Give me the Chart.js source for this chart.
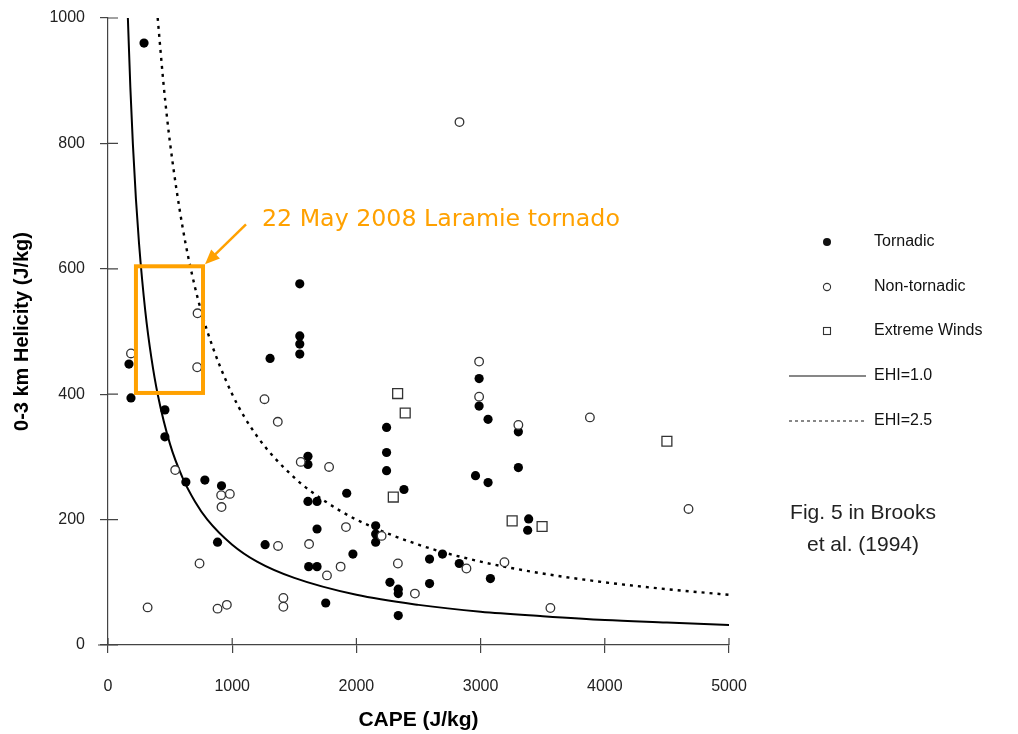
<!DOCTYPE html>
<html lang="en">
<head>
<meta charset="UTF-8">
<title>CAPE vs 0-3 km Helicity (Brooks et al. 1994)</title>
<script src="https://cdn.jsdelivr.net/npm/chart.js"></script>
<style>
  html, body { margin: 0; padding: 0; background: #fff; }
</style>
</head>
<body>
<canvas id="ehiChart" width="1018" height="734"></canvas>
<script>
// ---- data (CAPE J/kg, helicity J/kg) ----
const tornadicCape = [290, 169, 185, 458, 458, 627, 780, 914, 882, 1305, 1544, 1544, 1544, 1544, 1610, 1610, 1610, 1683, 1683, 1265, 1616, 1683, 1753, 1922, 1972, 2243, 2243, 2243, 2383, 2155, 2155, 2155, 2270, 2337, 2337, 2337, 2589, 2589, 2693, 2828, 2988, 2988, 3060, 2959, 3060, 3079, 3304, 3304, 3387, 3379];
const tornadicHel  = [960, 448, 394, 375, 332, 260, 263, 254, 164, 457, 576, 493, 480, 464, 301, 288, 229, 229, 185, 160, 125, 125, 67, 242, 145, 347, 307, 278, 248, 190, 177, 164, 100, 89, 82, 47, 137, 98, 145, 130, 425, 381, 360, 270, 259, 106, 340, 283, 201, 183];

const nonTornCape = [2830, 185, 718, 721, 541, 911, 981, 914, 737, 319, 882, 957, 1260, 1367, 1552, 1780, 1369, 1619, 1763, 1873, 1412, 1412, 1916, 2203, 2334, 2471, 2886, 2988, 2988, 3304, 3192, 3562, 3880, 4674];
const nonTornHel  = [834, 465, 443, 529, 279, 239, 241, 220, 130, 60, 58, 64, 392, 356, 292, 284, 158, 161, 111, 125, 75, 61, 188, 174, 130, 82, 122, 452, 396, 351, 132, 59, 363, 217];

const windCape = [2332, 2393, 2297, 3254, 3495, 4500];
const windHel  = [401, 370, 236, 198, 189, 325];

// EHI curves
const ehi10Cape = [160, 180, 200, 225, 250, 300, 350, 400, 500, 600, 700, 800, 1000, 1200, 1500, 2000, 2500, 3000, 3500, 4000, 4500, 5000];
const ehi10Hel  = [1000, 889, 800, 711, 640, 533, 457, 400, 320, 267, 229, 200, 160, 133, 107, 80, 64, 53, 46, 40, 36, 32];
const ehi25Cape = [400, 450, 500, 600, 700, 800, 1000, 1200, 1500, 1750, 2000, 2500, 3000, 3500, 4000, 4500, 5000];
const ehi25Hel  = [1000, 889, 800, 667, 571, 500, 400, 333, 267, 229, 200, 160, 133, 114, 100, 89, 80];

const xTicks = [0, 1000, 2000, 3000, 4000, 5000];
const yTicks = [0, 200, 400, 600, 800, 1000];

// Laramie case highlight (data units)
const boxCape = [225, 765];
const boxHel  = [402, 604];
const noteText = '22 May 2008 Laramie tornado';

const pts = (xs, ys) => xs.map((v, i) => ({ x: v, y: ys[i] }));

const FONT = '"Liberation Sans", Arial, Helvetica, sans-serif';
const ORANGE = '#ffa100';

// legend, highlight box, inner tick marks
const overlay = {
  id: 'overlay',
  afterDraw(chart) {
    const { ctx, chartArea: a, scales: { x, y } } = chart;
    ctx.save();

    // inner halves of tick marks + axis overhang
    ctx.strokeStyle = '#444';
    ctx.lineWidth = 1.2;
    ctx.beginPath();
    yTicks.forEach(v => { const py = y.getPixelForValue(v); ctx.moveTo(a.left, py); ctx.lineTo(a.left + 10, py); });
    xTicks.forEach(v => { const px = x.getPixelForValue(v); ctx.moveTo(px, a.bottom); ctx.lineTo(px, a.bottom - 7); });
    ctx.moveTo(a.left - 10, a.bottom); ctx.lineTo(a.left, a.bottom);
    ctx.stroke();

    // orange box + arrow + note
    const bx0 = x.getPixelForValue(boxCape[0]), bx1 = x.getPixelForValue(boxCape[1]);
    const by0 = y.getPixelForValue(boxHel[1]), by1 = y.getPixelForValue(boxHel[0]);
    ctx.strokeStyle = ORANGE;
    ctx.lineWidth = 4;
    ctx.strokeRect(bx0, by0, bx1 - bx0, by1 - by0);

    const tipX = bx1 + 2, tipY = by0 - 2;
    const sX = x.getPixelForValue(1111), sY = y.getPixelForValue(671);
    const ang = Math.atan2(tipY - sY, tipX - sX);
    ctx.lineWidth = 2.5;
    ctx.beginPath();
    ctx.moveTo(sX, sY);
    ctx.lineTo(tipX - 10 * Math.cos(ang), tipY - 10 * Math.sin(ang));
    ctx.stroke();
    ctx.fillStyle = ORANGE;
    ctx.beginPath();
    ctx.moveTo(tipX, tipY);
    ctx.lineTo(tipX - 16 * Math.cos(ang - 0.4), tipY - 16 * Math.sin(ang - 0.4));
    ctx.lineTo(tipX - 16 * Math.cos(ang + 0.4), tipY - 16 * Math.sin(ang + 0.4));
    ctx.closePath();
    ctx.fill();

    let fs = 22;
    ctx.font = fs + 'px "Comic Sans MS", "DejaVu Sans", sans-serif';
    fs = fs * 358 / ctx.measureText(noteText).width;
    ctx.font = fs.toFixed(1) + 'px "Comic Sans MS", "DejaVu Sans", sans-serif';
    ctx.textBaseline = 'middle';
    ctx.textAlign = 'left';
    ctx.fillText(noteText, x.getPixelForValue(1240), y.getPixelForValue(678));

    // legend
    ctx.fillStyle = '#111';
    ctx.font = '16px ' + FONT;
    const lx = 874, mx = 827;
    const rows = [242, 287, 331, 376, 421];
    ['Tornadic', 'Non-tornadic', 'Extreme Winds', 'EHI=1.0', 'EHI=2.5'].forEach((t, i) => ctx.fillText(t, lx, rows[i]));

    ctx.beginPath(); ctx.arc(mx, rows[0], 4, 0, Math.PI * 2); ctx.fill();
    ctx.strokeStyle = '#333'; ctx.lineWidth = 1.1;
    ctx.beginPath(); ctx.arc(mx, rows[1], 3.6, 0, Math.PI * 2); ctx.stroke();
    ctx.strokeRect(mx - 3.5, rows[2] - 3.5, 7, 7);
    ctx.strokeStyle = '#111'; ctx.lineWidth = 1.2;
    ctx.beginPath(); ctx.moveTo(789, rows[3]); ctx.lineTo(866, rows[3]); ctx.stroke();
    ctx.setLineDash([3, 3]);
    ctx.beginPath(); ctx.moveTo(789, rows[4]); ctx.lineTo(866, rows[4]); ctx.stroke();
    ctx.setLineDash([]);

    // source note
    ctx.fillStyle = '#222';
    ctx.font = '21px ' + FONT;
    ctx.textAlign = 'center';
    ctx.fillText('Fig. 5 in Brooks', 863, 513);
    ctx.fillText('et al. (1994)', 863, 545);

    ctx.restore();
  }
};

new Chart(document.getElementById('ehiChart'), {
  type: 'scatter',
  data: {
    datasets: [
      { label: 'Extreme Winds', data: pts(windCape, windHel), pointStyle: 'rect', pointRadius: 7,
        backgroundColor: '#fff', borderColor: '#333', borderWidth: 1.3, order: 0 },
      { label: 'Non-tornadic', data: pts(nonTornCape, nonTornHel), pointRadius: 4.3,
        backgroundColor: '#fff', borderColor: '#333', borderWidth: 1.3, order: 1 },
      { label: 'Tornadic', data: pts(tornadicCape, tornadicHel), pointRadius: 4.6,
        backgroundColor: '#000', borderColor: '#000', borderWidth: 0, order: 2 },
      { label: 'EHI=1.0', type: 'line', data: pts(ehi10Cape, ehi10Hel), showLine: true,
        borderColor: '#000', borderWidth: 2, pointRadius: 0, cubicInterpolationMode: 'monotone', order: 3 },
      { label: 'EHI=2.5', type: 'line', data: pts(ehi25Cape, ehi25Hel), showLine: true,
        borderColor: '#000', borderWidth: 2.4, borderDash: [3, 5], pointRadius: 0, cubicInterpolationMode: 'monotone', order: 4 }
    ]
  },
  options: {
    responsive: false,
    animation: false,
    layout: { padding: { left: 0, right: 289, top: 18, bottom: 0 } },
    plugins: { legend: { display: false }, tooltip: { enabled: false } },
    scales: {
      x: {
        type: 'linear', min: 0, max: 5000,
        afterBuildTicks: s => { s.ticks = xTicks.map(v => ({ value: v })); },
        afterFit: s => { s.height = 89; s.paddingLeft = 0; s.paddingRight = 0; },
        ticks: { callback: v => String(v), color: '#222', font: { family: FONT, size: 16 }, padding: 24, maxRotation: 0 },
        grid: { display: true, drawOnChartArea: false, drawTicks: true, tickLength: 8, color: '#444', lineWidth: 1.2 },
        border: { display: true, color: '#444', width: 1.2 },
        title: { display: true, text: 'CAPE (J/kg)', color: '#000', font: { family: FONT, size: 21, weight: 'bold' }, padding: { top: 0, bottom: 1 } }
      },
      y: {
        type: 'linear', min: 0, max: 1000,
        afterBuildTicks: s => { s.ticks = yTicks.map(v => ({ value: v })); },
        afterFit: s => { s.width = 108; s.paddingTop = 0; s.paddingBottom = 0; },
        ticks: { callback: v => String(v), color: '#222', font: { family: FONT, size: 16 }, padding: 15 },
        grid: { display: true, drawOnChartArea: false, drawTicks: true, tickLength: 8, color: '#444', lineWidth: 1.2 },
        border: { display: true, color: '#444', width: 1.2 },
        title: { display: true, text: '0-3 km Helicity (J/kg)', color: '#000', font: { family: FONT, size: 20, weight: 'bold' }, padding: { top: 10, bottom: 0 } }
      }
    }
  },
  plugins: [overlay]
});
</script>
</body>
</html>
